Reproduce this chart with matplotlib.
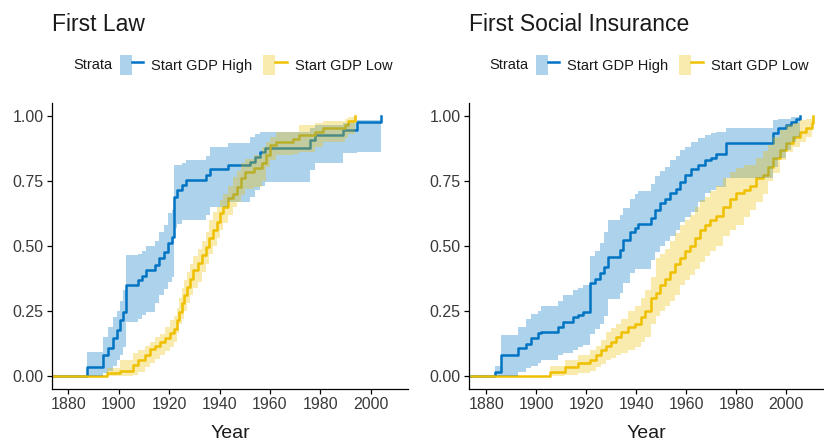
import matplotlib
matplotlib.use("Agg")
import matplotlib.pyplot as plt
from matplotlib.patches import Patch
from matplotlib.lines import Line2D
from matplotlib.legend_handler import HandlerTuple

plt.rcParams['font.family'] = ['Liberation Sans', 'DejaVu Sans']

# ---------------- data ----------------
panel_titles = ["First Law", "First Social Insurance"]
strata_labels = ["Start GDP High", "Start GDP Low"]
year_ticks = [1880, 1900, 1920, 1940, 1960, 1980, 2000]
prob_ticks = [0.00, 0.25, 0.50, 0.75, 1.00]

# First Law - Start GDP High
law_high_year = [1874, 1887.3, 1893.9, 1895.9, 1897.9, 1899.4, 1900.5, 1901.6, 1902.9, 1907.8,
                 1909.1, 1910.8, 1914.4, 1916.1, 1918.0, 1919.7, 1921.0, 1921.9, 1923.3, 1925.0,
                 1926.6, 1934.6, 1936.2, 1943.5, 1952.1, 1954.1, 1956.1, 1958.0, 1975.9, 1977.9,
                 1989.1, 1994.4, 2004.0]
law_high_surv = [0, 0.036, 0.081, 0.106, 0.145, 0.177, 0.215, 0.247, 0.35, 0.369,
                 0.385, 0.408, 0.427, 0.453, 0.478, 0.51, 0.536, 0.69, 0.715, 0.735,
                 0.754, 0.773, 0.795, 0.81, 0.824, 0.843, 0.863, 0.876, 0.908, 0.927,
                 0.946, 0.978, 1.0]
law_high_upper = [0, 0.093, 0.151, 0.19, 0.228, 0.25, 0.29, 0.33, 0.465, 0.47,
                  0.48, 0.50, 0.52, 0.555, 0.58, 0.626, 0.64, 0.81, 0.81, 0.82,
                  0.83, 0.845, 0.882, 0.895, 0.92, 0.93, 0.94, 0.94, 0.953, 0.965,
                  0.972, 0.985, 1.0]
law_high_lower = [0, 0.0, 0.01, 0.02, 0.04, 0.06, 0.08, 0.113, 0.209, 0.22,
                  0.235, 0.247, 0.28, 0.31, 0.335, 0.363, 0.38, 0.568, 0.585, 0.60,
                  0.60, 0.62, 0.651, 0.67, 0.69, 0.715, 0.73, 0.747, 0.792, 0.818,
                  0.856, 0.86, 1.0]

# First Law - Start GDP Low
law_low_year = [1874, 1895.2, 1900.5, 1905.8, 1907.8, 1910.4, 1912.4, 1914.4, 1916.4, 1918.4,
                1920.4, 1922.0, 1923.0, 1924.0, 1925.0, 1926.0, 1927.0, 1928.3, 1929.6, 1931.3,
                1932.9, 1934.5, 1936.0, 1937.5, 1938.9, 1940.2, 1941.5, 1943.5, 1945.2, 1946.8,
                1948.5, 1950.1, 1953.5, 1956.7, 1958.5, 1960.0, 1962.5, 1969.3, 1971.5, 1977.9,
                1981.0, 1989.8, 1991.0, 1993.8]
law_low_surv = [0, 0.01, 0.02, 0.042, 0.062, 0.08, 0.103, 0.115, 0.132, 0.145,
                0.164, 0.18, 0.215, 0.247, 0.28, 0.31, 0.343, 0.375, 0.408, 0.434,
                0.465, 0.497, 0.53, 0.56, 0.593, 0.626, 0.65, 0.683, 0.70, 0.728,
                0.76, 0.786, 0.80, 0.818, 0.85, 0.888, 0.90, 0.91, 0.927, 0.94,
                0.953, 0.965, 0.98, 1.0]
law_low_upper = [0, 0.03, 0.06, 0.09, 0.10, 0.115, 0.13, 0.15, 0.163, 0.19,
                 0.215, 0.23, 0.26, 0.30, 0.34, 0.37, 0.40, 0.43, 0.46, 0.49,
                 0.52, 0.555, 0.60, 0.632, 0.65, 0.677, 0.70, 0.73, 0.767, 0.79,
                 0.818, 0.835, 0.85, 0.882, 0.90, 0.92, 0.94, 0.94, 0.965, 0.975,
                 0.98, 0.99, 0.995, 1.0]
law_low_lower = [0, 0, 0, 0.005, 0.015, 0.036, 0.05, 0.065, 0.08, 0.095,
                 0.11, 0.13, 0.164, 0.2, 0.22, 0.25, 0.28, 0.31, 0.34, 0.363,
                 0.40, 0.43, 0.47, 0.50, 0.53, 0.56, 0.587, 0.62, 0.651, 0.67,
                 0.696, 0.72, 0.728, 0.75, 0.805, 0.83, 0.85, 0.855, 0.86, 0.882,
                 0.90, 0.914, 0.93, 1.0]

# First Social Insurance - Start GDP High
si_high_year = [1874, 1883.3, 1886.0, 1892.7, 1896.0, 1898.0, 1900.7, 1902.0, 1908.7, 1910.7,
                1914.7, 1916.5, 1918.7, 1921.4, 1923.4, 1925.4, 1927.0, 1928.7, 1933.4, 1934.7,
                1937.4, 1939.4, 1940.7, 1946.1, 1947.4, 1949.4, 1951.4, 1953.4, 1956.1, 1957.5,
                1959.4, 1962.1, 1964.7, 1967.4, 1970.0, 1972.1, 1976.1, 1994.8, 1996.8, 2000.1,
                2002.1, 2004.1, 2005.5]
si_high_surv = [0, 0.017, 0.081, 0.106, 0.125, 0.145, 0.164, 0.17, 0.19, 0.209,
                0.228, 0.235, 0.247, 0.356, 0.375, 0.395, 0.42, 0.459, 0.485, 0.523,
                0.555, 0.568, 0.585, 0.607, 0.638, 0.665, 0.682, 0.703, 0.72, 0.747,
                0.773, 0.795, 0.81, 0.83, 0.84, 0.855, 0.895, 0.933, 0.953, 0.965,
                0.978, 0.99, 1.0]
si_high_upper = [0, 0.04, 0.158, 0.19, 0.22, 0.24, 0.25, 0.27, 0.29, 0.31,
                 0.33, 0.34, 0.35, 0.46, 0.48, 0.51, 0.555, 0.60, 0.62, 0.645,
                 0.68, 0.70, 0.71, 0.74, 0.77, 0.79, 0.805, 0.83, 0.845, 0.87,
                 0.882, 0.90, 0.915, 0.927, 0.935, 0.94, 0.953, 0.985, 0.99, 0.99,
                 0.995, 0.995, 1.0]
si_high_lower = [0, 0, 0, 0.017, 0.03, 0.04, 0.05, 0.06, 0.08, 0.09,
                 0.10, 0.11, 0.12, 0.16, 0.18, 0.20, 0.23, 0.297, 0.32, 0.356,
                 0.395, 0.41, 0.41, 0.446, 0.478, 0.50, 0.52, 0.54, 0.56, 0.593,
                 0.61, 0.63, 0.67, 0.703, 0.715, 0.728, 0.76, 0.805, 0.837, 0.87,
                 0.90, 0.92, 1.0]

# First Social Insurance - Start GDP Low
si_low_year = [1874, 1905.4, 1911.4, 1916.7, 1921.4, 1924.0, 1926.0, 1928.0, 1930.0, 1932.0,
               1934.0, 1936.5, 1939.4, 1942.0, 1943.5, 1946.1, 1947.8, 1949.4, 1951.4, 1953.4,
               1955.4, 1957.4, 1959.4, 1961.4, 1963.4, 1965.4, 1967.4, 1969.4, 1972.0, 1974.7,
               1977.5, 1980.1, 1983.0, 1985.4, 1988.0, 1990.8, 1992.8, 1994.8, 1997.5, 2000.1,
               2002.8, 2005.5, 2008.1, 2010.2, 2010.7]
si_low_surv = [0, 0.014, 0.036, 0.05, 0.06, 0.08, 0.10, 0.115, 0.13, 0.15,
               0.17, 0.19, 0.20, 0.228, 0.25, 0.30, 0.32, 0.35, 0.375, 0.40,
               0.43, 0.455, 0.48, 0.50, 0.53, 0.56, 0.58, 0.60, 0.615, 0.65,
               0.68, 0.703, 0.715, 0.73, 0.76, 0.773, 0.805, 0.837, 0.87, 0.895,
               0.92, 0.94, 0.953, 0.972, 1.0]
si_low_upper = [0, 0.04, 0.06, 0.08, 0.10, 0.115, 0.14, 0.17, 0.185, 0.20,
                0.22, 0.25, 0.27, 0.30, 0.33, 0.38, 0.453, 0.47, 0.49, 0.52,
                0.55, 0.58, 0.60, 0.62, 0.65, 0.677, 0.69, 0.71, 0.73, 0.76,
                0.786, 0.80, 0.81, 0.81, 0.84, 0.865, 0.888, 0.92, 0.946, 0.965,
                0.975, 0.985, 0.99, 0.995, 1.0]
si_low_lower = [0, 0, 0.005, 0.01, 0.02, 0.036, 0.045, 0.06, 0.07, 0.08,
                0.09, 0.10, 0.11, 0.13, 0.15, 0.20, 0.23, 0.25, 0.27, 0.29,
                0.31, 0.35, 0.37, 0.39, 0.41, 0.44, 0.46, 0.48, 0.50, 0.54,
                0.56, 0.58, 0.61, 0.64, 0.67, 0.70, 0.75, 0.78, 0.83, 0.86,
                0.88, 0.90, 0.92, 0.95, 1.0]

# ---------------- style ----------------
col_high = "#0073C2"
col_low = "#EFC000"
band_alpha = 0.32
txt_col = "#1a1a1a"
tick_col = "#3a3a3a"

fig = plt.figure(figsize=(8.24, 4.42), dpi=100)
ax_left = fig.add_axes([52/824, 53/442, 356/824, 286/442])
ax_right = fig.add_axes([469/824, 53/442, 355/824, 286/442])

panels = [
    (ax_left, (1873.5, 2014.8),
     [(law_high_year, law_high_surv, law_high_upper, law_high_lower, col_high),
      (law_low_year, law_low_surv, law_low_upper, law_low_lower, col_low)]),
    (ax_right, (1873.0, 2015.2),
     [(si_high_year, si_high_surv, si_high_upper, si_high_lower, col_high),
      (si_low_year, si_low_surv, si_low_upper, si_low_lower, col_low)]),
]

for (ax, xlim, series), title in zip(panels, panel_titles):
    for yr, sv, up, lo, col in series:
        ax.step(yr, sv, where='post', color=col, lw=1.8, zorder=2)
    for yr, sv, up, lo, col in series:
        ax.fill_between(yr, lo, up, step='post', color=col, alpha=band_alpha,
                        lw=0, zorder=3)
    ax.set_xlim(*xlim)
    ax.set_ylim(-0.05, 1.05)
    ax.set_xticks(year_ticks)
    ax.set_yticks(prob_ticks)
    ax.set_yticklabels([f"{v:.2f}" for v in prob_ticks])
    for s in ['top', 'right']:
        ax.spines[s].set_visible(False)
    for s in ['left', 'bottom']:
        ax.spines[s].set_linewidth(0.9)
        ax.spines[s].set_color('black')
    ax.tick_params(axis='both', labelsize=11.5, labelcolor=tick_col, length=3.5,
                   width=0.9, color='black', pad=2.5)
    ax.set_xlabel("Year", fontsize=14, color=txt_col, labelpad=9)
    ax.set_title(title, loc='left', fontsize=16.5, color=txt_col, pad=52)

# legends
for ax, strata_x in [(ax_left, 73/824), (ax_right, 489/824)]:
    handles = [
        (Patch(facecolor=col_high, alpha=band_alpha, lw=0),
         Line2D([], [], color=col_high, lw=1.8)),
        (Patch(facecolor=col_low, alpha=band_alpha, lw=0),
         Line2D([], [], color=col_low, lw=1.8)),
    ]
    key_x = strata_x + 47/824
    fig.text(strata_x, (442-65)/442, "Strata", fontsize=10.5, color=txt_col,
             ha='left', va='center')
    fig.legend(handles, strata_labels, loc='center left',
               bbox_to_anchor=(key_x, (442-65)/442), ncol=2, frameon=False,
               fontsize=10.5, handlelength=1.6, handleheight=1.75,
               handletextpad=0.55, columnspacing=0.75, borderpad=0,
               borderaxespad=0,
               handler_map={tuple: HandlerTuple(ndivide=None, pad=0)},
               labelcolor=txt_col)

fig.savefig("out.png", dpi=100)
